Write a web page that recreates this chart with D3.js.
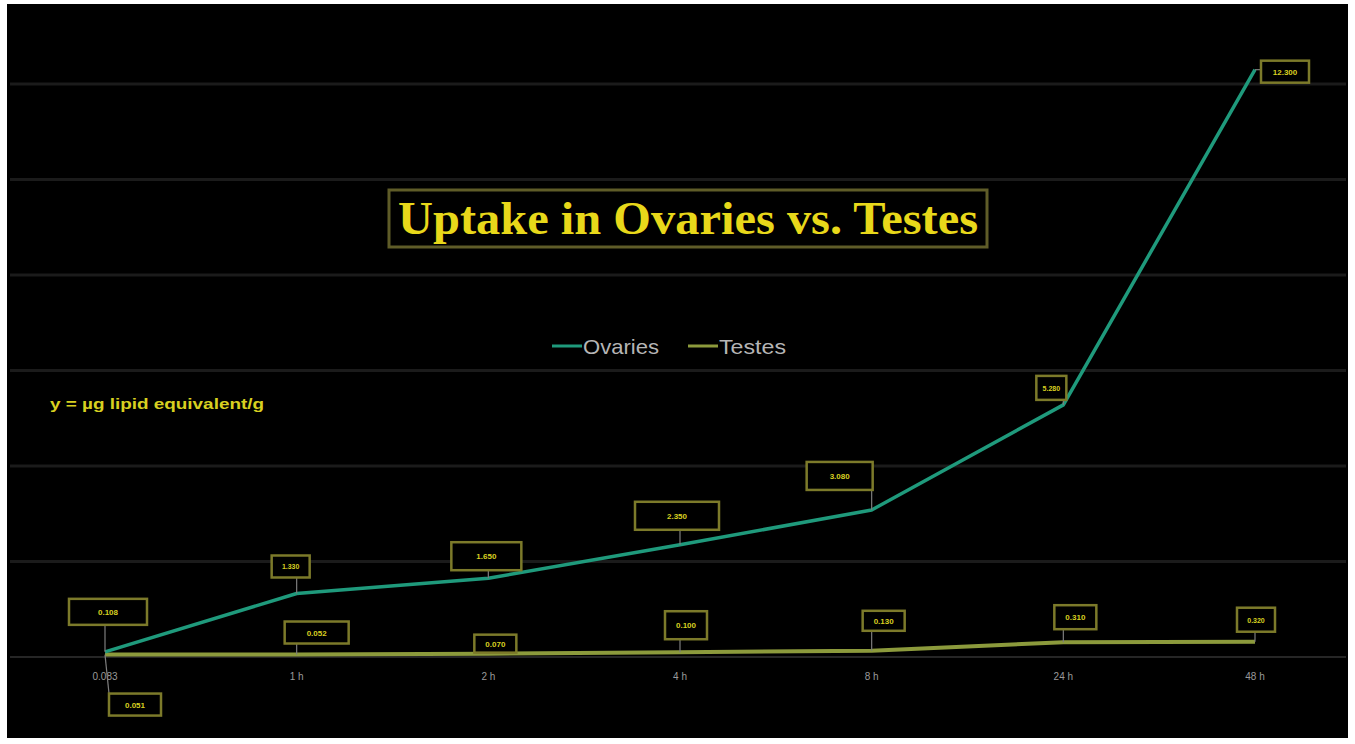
<!DOCTYPE html>
<html>
<head>
<meta charset="utf-8">
<script src="https://cdn.jsdelivr.net/npm/d3@7"></script>
<style>
  html, body { margin: 0; padding: 0; background: #ffffff; }
  svg { display: block; }
</style>
</head>
<body>
<svg id="chart" width="1355" height="744"></svg>
<script>
// Sampling times (x categories)
const categories = ["0.083", "1 h", "2 h", "4 h", "8 h", "24 h", "48 h"];
// Uptake, µg lipid equivalent / g
const ovaries = [0.108, 1.330, 1.650, 2.350, 3.080, 5.280, 12.300];
const testes  = [0.051, 0.052, 0.070, 0.100, 0.130, 0.310, 0.320];
// Gridline values on the y scale
const yTicks = [0, 2, 4, 6, 8, 10, 12];

// Placement of each data-label box relative to its point: [dx, dy, width, height]
const ovariesLabelLayout = [
  [3, -40, 78, 26], [-6, -27, 38, 22], [-2, -22, 70, 28], [-3, -29, 84, 28],
  [-32, -34, 66, 28], [-12, -17, 30, 24], [30, 2, 48, 22]
];
const testesLabelLayout = [
  [30, 50, 52, 22], [20, -22, 64, 22], [7, -10, 42, 18], [6, -27, 42, 28],
  [12, -30, 42, 20], [12, -25, 42, 24], [1, -22, 38, 24]
];

const svg = d3.select("#chart");

// Black slide area inside a thin white frame
svg.append("rect").attr("x", 7).attr("y", 4).attr("width", 1341).attr("height", 734)
  .attr("fill", "#000000");

const x = d3.scalePoint().domain(categories).range([105, 1255]);
const y = d3.scaleLinear().domain([0, 12]).range([657, 84]);

// Horizontal gridlines
svg.append("g").selectAll("line").data(yTicks.filter(d => d > 0)).join("line")
  .attr("x1", 10).attr("x2", 1346)
  .attr("y1", d => y(d)).attr("y2", d => y(d))
  .attr("stroke", "#1b1b1b").attr("stroke-width", 3);

// x axis baseline
svg.append("line").attr("x1", 10).attr("x2", 1346)
  .attr("y1", y(0)).attr("y2", y(0))
  .attr("stroke", "#262626").attr("stroke-width", 2);

// x tick labels
svg.append("g").selectAll("text").data(categories).join("text")
  .attr("x", d => x(d)).attr("y", 680)
  .attr("text-anchor", "middle")
  .attr("font-family", "Liberation Sans, Arial, sans-serif")
  .attr("font-size", 10)
  .attr("fill", "#9a9a9a")
  .text(d => d);

const line = d3.line().x((d, i) => x(categories[i])).y(d => y(d));

// Series lines
svg.append("path").datum(testes).attr("d", line)
  .attr("fill", "none").attr("stroke", "#8c9a3c").attr("stroke-width", 4)
  .attr("stroke-linejoin", "round");
svg.append("path").datum(ovaries).attr("d", line)
  .attr("fill", "none").attr("stroke", "#1f9a7c").attr("stroke-width", 3.5)
  .attr("stroke-linejoin", "round");

// Data-label boxes with leader lines
function drawLabels(values, layout) {
  const g = svg.append("g");
  values.forEach((v, i) => {
    const px = x(categories[i]), py = y(v);
    const [dx, dy, w, h] = layout[i];
    const cx = px + dx, cy = py + dy;
    const bx = cx - w / 2, by = cy - h / 2;
    const lx = Math.max(bx, Math.min(px, bx + w));
    const ly = Math.max(by, Math.min(py, by + h));
    g.append("line").attr("x1", px).attr("y1", py).attr("x2", lx).attr("y2", ly)
      .attr("stroke", "#7d7d7d").attr("stroke-width", 1.2);
    g.append("rect").attr("x", bx).attr("y", by).attr("width", w).attr("height", h)
      .attr("fill", "#000000").attr("stroke", "#7c7a2a").attr("stroke-width", 2.5);
    g.append("text").attr("x", cx).attr("y", cy + 3)
      .attr("text-anchor", "middle")
      .attr("font-family", "Liberation Sans, Arial, sans-serif")
      .attr("font-weight", "bold")
      .attr("font-size", w < 40 ? 7 : 8)
      .attr("fill", "#d8d020")
      .text(d3.format(".3f")(v));
  });
}
drawLabels(ovaries, ovariesLabelLayout);
drawLabels(testes, testesLabelLayout);

// Title in a framed box
svg.append("rect").attr("x", 389).attr("y", 190).attr("width", 598).attr("height", 57)
  .attr("fill", "#000000").attr("stroke", "#5f5c28").attr("stroke-width", 3);
svg.append("text").attr("x", 688).attr("y", 234)
  .attr("text-anchor", "middle")
  .attr("font-family", "Liberation Serif, Times New Roman, serif")
  .attr("font-weight", "bold")
  .attr("font-size", 46)
  .attr("textLength", 580)
  .attr("lengthAdjust", "spacingAndGlyphs")
  .attr("fill", "#e8d81a")
  .text("Uptake in Ovaries vs. Testes");

// Legend
const legendItems = [
  { name: "Ovaries", color: "#1f9a7c", x: 552, w: 76 },
  { name: "Testes", color: "#8c9a3c", x: 688, w: 67 }
];
const lg = svg.append("g");
legendItems.forEach(it => {
  lg.append("line").attr("x1", it.x).attr("x2", it.x + 30).attr("y1", 346).attr("y2", 346)
    .attr("stroke", it.color).attr("stroke-width", 3);
  lg.append("text").attr("x", it.x + 31).attr("y", 354)
    .attr("font-family", "Liberation Sans, Arial, sans-serif")
    .attr("font-size", 21)
    .attr("textLength", it.w)
    .attr("lengthAdjust", "spacingAndGlyphs")
    .attr("fill", "#b5b5b5")
    .text(it.name);
});

// Unit note
svg.append("text").attr("x", 50).attr("y", 409)
  .attr("font-family", "Liberation Sans, Arial, sans-serif")
  .attr("font-weight", "bold")
  .attr("font-size", 14)
  .attr("textLength", 214)
  .attr("lengthAdjust", "spacingAndGlyphs")
  .attr("fill", "#d8d020")
  .text("y = µg lipid equivalent/g");
</script>
</body>
</html>
